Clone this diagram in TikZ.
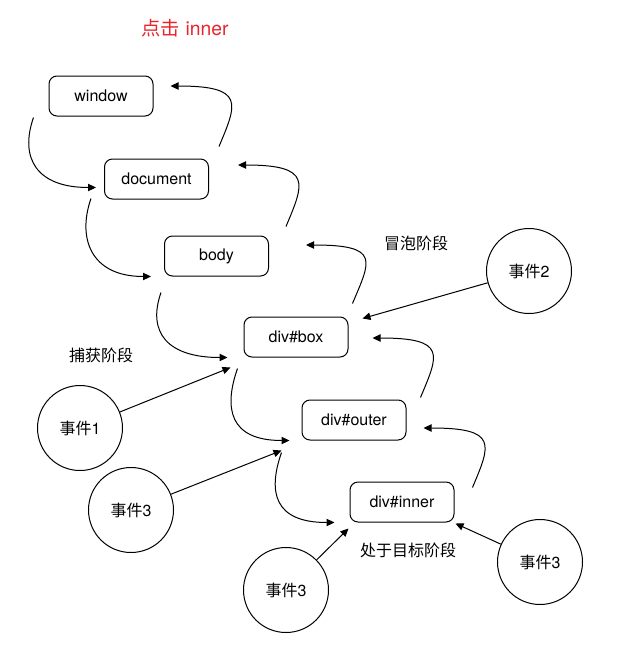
\documentclass[tikz,border=0pt]{standalone}
\usepackage{fontspec}
\setmainfont{TeX Gyre Heros}
\newfontfamily\cjk{Noto Sans CJK SC}
\usepackage{xcolor}
\usepackage{tikz}
\usetikzlibrary{arrows.meta, positioning, calc}

\definecolor{titlered}{RGB}{232,36,44}

\tikzset{
    elem/.style={draw, rounded corners=6pt, line width=0.75pt,
        minimum width=78pt, minimum height=30pt, inner sep=0pt,
        font=\fontsize{12}{14}\selectfont},
    evt/.style={draw, circle, line width=0.75pt, minimum size=63.75pt,
        inner sep=0pt, font=\fontsize{12}{14}\selectfont},
    phase/.style={font=\fontsize{12}{14}\selectfont\cjk, inner sep=0pt},
    arr/.style={-{Triangle[length=6pt,width=5.5pt]}, line width=0.75pt},
}

\begin{document}
\begin{tikzpicture}[x=0.75pt, y=-0.75pt]
    \useasboundingbox (0,0) rectangle (628,653);

    % Title
    \node[font=\fontsize{14.5}{17}\selectfont, text=titlered, inner sep=0pt]
        (title) at (185,28) {{\cjk 点击} inner};

    % DOM elements
    \node[elem] (window)   at (101,96)  {window};
    \node[elem] (document) at (156.5,179) {document};
    \node[elem] (body)     at (216.5,256) {body};
    \node[elem] (box)      at (296,337) {div\#box};
    \node[elem] (outer)    at (354,420) {div\#outer};
    \node[elem] (inner)    at (402,502) {div\#inner};

    % Events
    \node[evt] (ev2)  at (529,271) {{\cjk 事件}2};
    \node[evt] (ev1)  at (80,428)  {{\cjk 事件}1};
    \node[evt] (ev3a) at (131,510) {{\cjk 事件}3};
    \node[evt] (ev3b) at (286,590) {{\cjk 事件}3};
    \node[evt] (ev3c) at (540,562) {{\cjk 事件}3};

    % Phase labels
    \node[phase] (bubble)  at (416,243) {冒泡阶段};
    \node[phase] (capture) at (101,355) {捕获阶段};
    \node[phase] (target)  at (408,550) {处于目标阶段};

    % Capture phase (down the left side)
    \draw[arr] ([shift={(-15,1)}]window.south west)
        .. controls +(-14,40) and +(-60,0) .. ([shift={(-8,-12)}]document.south west);
    \draw[arr] ([shift={(-13,-1)}]document.south west)
        .. controls +(-14,40) and +(-60,0) .. ([shift={(-13,0)}]body.south west);
    \draw[arr] ([shift={(-3,16)}]body.south west)
        .. controls +(-14,40) and +(-60,0) .. ([shift={(-16,0)}]box.south west);
    \draw[arr] ([shift={(-6,11)}]box.south west)
        .. controls +(-14,40) and +(-60,0) .. ([shift={(-12,0)}]outer.south west);
    \draw[arr] ([shift={(-20,12)}]outer.south west)
        .. controls +(-14,40) and +(-60,0) .. ([shift={(-15,0)}]inner.south west);

    % Bubble phase (up the right side)
    \draw[arr] ([shift={(18,6)}]inner.north east)
        .. controls +(18,-43) and +(75,0) .. ([shift={(17,8)}]outer.east);
    \draw[arr] ([shift={(14,-2)}]outer.north east)
        .. controls +(18,-43) and +(75,0) .. ([shift={(24,1)}]box.east);
    \draw[arr] ([shift={(4,-13)}]box.north east)
        .. controls +(18,-43) and +(75,0) .. ([shift={(37,-11)}]body.east);
    \draw[arr] ([shift={(17,-9)}]body.north east)
        .. controls +(18,-43) and +(75,0) .. ([shift={(29,-14)}]document.east);
    \draw[arr] ([shift={(10,-12)}]document.north east)
        .. controls +(18,-43) and +(75,0) .. ([shift={(17,-10)}]window.east);

    % Event arrows
    \draw[arr] (ev2)  -- ([shift={(14,2)}]box.north east);
    \draw[arr] (ev1)  -- ([shift={(-13,10)}]box.south west);
    \draw[arr] (ev3a) -- ([shift={(-20,10)}]outer.south west);
    \draw[arr] (ev3b) -- ([shift={(-1,6)}]inner.south west);
    \draw[arr] (ev3c) -- ([shift={(1,1)}]inner.south east);
\end{tikzpicture}
\end{document}
